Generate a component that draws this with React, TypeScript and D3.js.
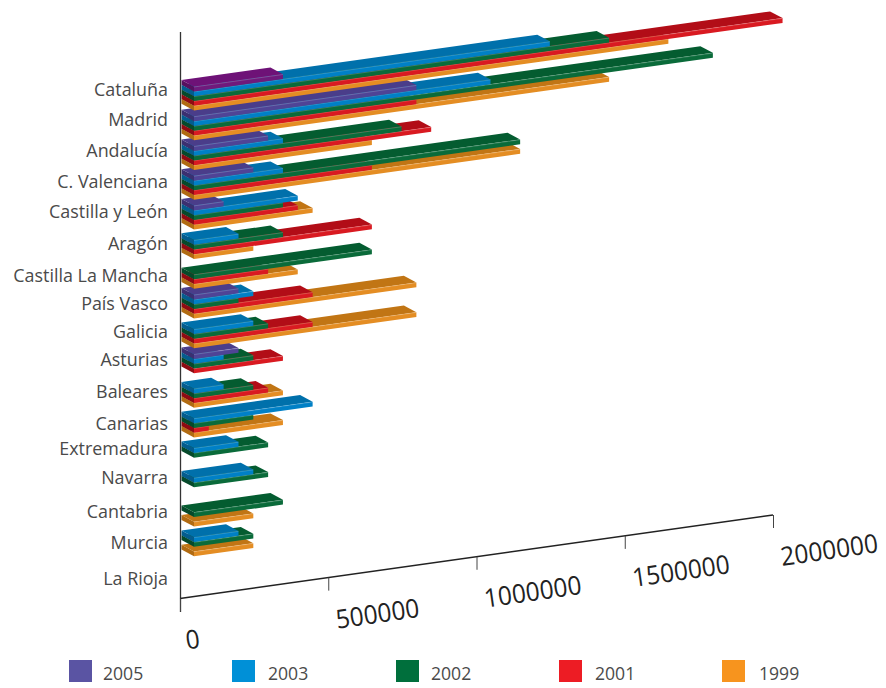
import React from "react";
import * as d3 from "d3";

// Autonomous communities, listed top to bottom
const regions = [
  "Cataluña", "Madrid", "Andalucía", "C. Valenciana", "Castilla y León", "Aragón",
  "Castilla La Mancha", "País Vasco", "Galicia", "Asturias", "Baleares", "Canarias",
  "Extremadura", "Navarra", "Cantabria", "Murcia", "La Rioja",
];
const years = ["2005", "2003", "2002", "2001", "1999"];

// One value per region, null where the year has no bar
const values2005 = [300000, 750000, 250000, 200000, 100000, null, null, 150000, null, 150000, null, null, null, null, null, null, null];
const values2003 = [1200000, 1000000, 300000, 300000, 350000, 150000, null, 200000, 200000, 100000, 100000, 400000, 150000, 200000, null, 150000, null];
const values2002 = [1400000, 1750000, 700000, 1100000, 300000, 300000, 600000, 150000, 250000, 200000, 200000, 200000, 250000, 250000, 300000, 200000, null];
const values2001 = [1985000, 750000, 800000, 600000, 350000, 600000, 250000, 400000, 400000, 300000, 250000, 50000, null, null, null, null, null];
const values1999 = [1600000, 1400000, 600000, 1100000, 400000, 200000, 350000, 750000, 750000, null, 300000, 300000, null, null, 200000, 200000, null];
const seriesValues = [values2005, values2003, values2002, values2001, values1999];

const axisTicks = [0, 500000, 1000000, 1500000, 2000000];

// Face colours per year: legend swatch, top, front, side
const palette = [
  { swatch: "#5a54a3", top: "#4a3d8a", front: "#4f4496", side: "#3b3071" },
  { swatch: "#0090d7", top: "#0070ab", front: "#0080c6", side: "#045c8e" },
  { swatch: "#006f3c", top: "#045c30", front: "#0a6b3a", side: "#064a2b" },
  { swatch: "#ed1c24", top: "#b20d17", front: "#d91a21", side: "#8e0b12" },
  { swatch: "#f7941e", top: "#c17514", front: "#e48d23", side: "#b16b12" },
];
const firstBarColours = { top: "#6e1277", front: "#6f1a7c", side: "#571060" };

// Oblique projection: bars sit one pixel inside the axis line
const axisX = d3.scaleLinear().domain([0, 2000000]).range([180.5, 773.5]);
const barInset = 1;
const slope = (598.5 - 515) / (773 - 180);
const rowY = d3.scalePoint<string>().domain(regions).range([80, 80 + 29.72 * 16]);
const slotY = d3.scalePoint<string>().domain(years).range([0, 19]);
const depthX = 12.5;
const depthY = 6.7;
const faceH = 4.8;

const labelY = [95.5, 126, 157, 188, 218, 249.5, 281.5, 309.5, 337.5, 365.5, 398, 430, 454.5, 483.5, 517.5, 548.5, 584.5];
const legendX = [69, 232, 396, 559, 722];
const legendTextX = [103, 268, 431, 595, 759];

const axisLine = (x: number) => 598.5 - slope * (x - 180.5);
const points = (p: [number, number][]) => p.map((d) => d.join(",")).join(" ");

function Bar({ value, region, year, colours }: any) {
  const x0 = axisX(0) + barInset;
  const x1 = axisX(value) + barInset;
  const y0 = (rowY(region) as number) + (slotY(year) as number);
  const y1 = y0 - slope * (x1 - x0);
  const fl: [number, number] = [x0 + depthX, y0 + depthY];
  const fr: [number, number] = [x1 + depthX, y1 + depthY];
  return (
    <g>
      <polygon fill={colours.side} points={points([[x0, y0], fl, [fl[0], fl[1] + faceH], [x0, y0 + faceH]])} />
      <polygon fill={colours.top} points={points([[x0, y0], [x1, y1], fr, fl])} />
      <polygon fill={colours.front} points={points([fl, fr, [fr[0], fr[1] + faceH], [fl[0], fl[1] + faceH]])} />
      <line x1={fl[0]} y1={fl[1] + 0.3} x2={fr[0]} y2={fr[1] + 0.3} stroke="#fff" strokeOpacity={0.28} strokeWidth={0.7} />
    </g>
  );
}

export default function App() {
  const font = "'Open Sans', 'Noto Sans', sans-serif";
  const regionOrder = d3.range(regions.length).reverse();
  const yearOrder = d3.range(years.length).reverse();
  return (
    <svg
      width={886}
      height={688}
      viewBox="0 0 886 688"
      style={{ position: "absolute", left: 0, top: 0, background: "#fff" }}
    >
      {regionOrder.map((r) =>
        yearOrder.map((s) => {
          const v = seriesValues[s][r];
          if (v == null) return null;
          const colours = r === 0 && s === 0 ? firstBarColours : palette[s];
          return <Bar key={`${r}-${s}`} value={v} region={regions[r]} year={years[s]} colours={colours} />;
        })
      )}

      <line x1={180.5} y1={32} x2={180.5} y2={612} stroke="#333" strokeWidth={1.3} />
      <line x1={180} y1={598.5} x2={773} y2={515} stroke="#222" strokeWidth={1.5} />
      {axisTicks.map((t) => {
        const x = axisX(t);
        const y = axisLine(x);
        const len = String(t).length * 14;
        return (
          <g key={t}>
            <line x1={x} y1={y} x2={x} y2={y + 13} stroke="#444" strokeWidth={1} />
            <text
              transform={`translate(${x + (t === 0 ? 6.5 : 8.5)},${y + 51}) rotate(-8.2)`}
              fontFamily={font}
              fontSize={26}
              fill="#222"
              textLength={len}
              lengthAdjust="spacingAndGlyphs"
            >
              {t}
            </text>
          </g>
        );
      })}

      {regions.map((name, i) => (
        <text key={name} x={168} y={labelY[i]} textAnchor="end" fontFamily={font} fontSize={17.9} fill="#4a4a4a">
          {name}
        </text>
      ))}

      {years.map((year, i) => (
        <g key={year}>
          <rect x={legendX[i]} y={660} width={23} height={22} fill={palette[i].swatch} />
          <text x={legendTextX[i]} y={680} fontFamily={font} fontSize={17.6} fill="#4a4a4a">
            {year}
          </text>
        </g>
      ))}
    </svg>
  );
}
